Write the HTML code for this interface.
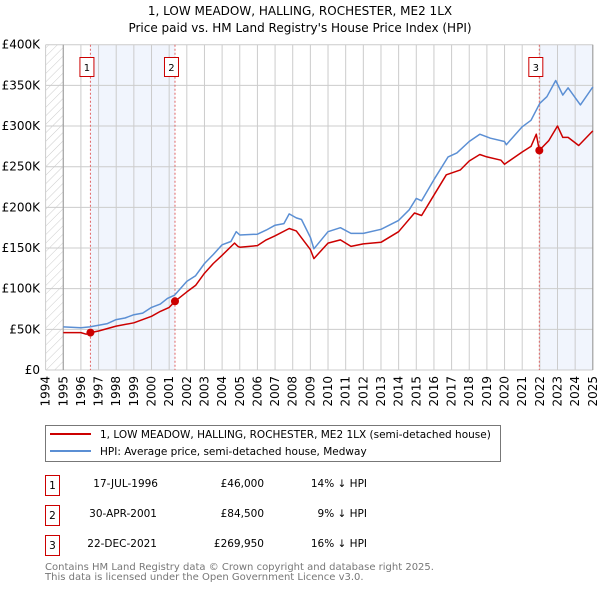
<!DOCTYPE html>
<html><head><meta charset="utf-8"><style>
body{margin:0;background:#fff;width:600px;height:590px;overflow:hidden;font-family:"DejaVu Sans","Liberation Sans",sans-serif;}
svg text{font-family:"DejaVu Sans","Liberation Sans",sans-serif;}
</style></head><body>
<svg id="chart" width="600" height="590">
<defs><pattern id="hatch" width="6" height="6" patternUnits="userSpaceOnUse" patternTransform="rotate(45)"><line x1="0" y1="0" x2="0" y2="6" stroke="#ccc" stroke-width="1"/></pattern></defs>
<text x="300" y="15" text-anchor="middle" font-size="12">1, LOW MEADOW, HALLING, ROCHESTER, ME2 1LX</text>
<text x="300" y="32" text-anchor="middle" font-size="12">Price paid vs. HM Land Registry's House Price Index (HPI)</text>
<g id="plot"></g>
<g>
<rect x="45.5" y="425.5" width="455" height="36" fill="#fff" stroke="#777"/>
<line x1="50" y1="434" x2="91" y2="434" stroke="#cc0000" stroke-width="2"/>
<text x="100" y="438" font-size="10.5">1, LOW MEADOW, HALLING, ROCHESTER, ME2 1LX (semi-detached house)</text>
<line x1="50" y1="451" x2="91" y2="451" stroke="#5b8fd4" stroke-width="2"/>
<text x="100" y="455" font-size="10.5">HPI: Average price, semi-detached house, Medway</text>
</g>
<g font-size="10.5">
<rect x="45.5" y="475.5" width="14" height="20" fill="#fff" stroke="#cc0000"/><text x="52.5" y="489" text-anchor="middle">1</text>
<text x="158" y="487" text-anchor="end">17-JUL-1996</text><text x="264" y="487" text-anchor="end">£46,000</text><text x="367" y="487" text-anchor="end">14% ↓ HPI</text>
<rect x="45.5" y="505.5" width="14" height="20" fill="#fff" stroke="#cc0000"/><text x="52.5" y="519" text-anchor="middle">2</text>
<text x="157" y="517" text-anchor="end">30-APR-2001</text><text x="264" y="517" text-anchor="end">£84,500</text><text x="367" y="517" text-anchor="end">9% ↓ HPI</text>
<rect x="45.5" y="535.5" width="14" height="20" fill="#fff" stroke="#cc0000"/><text x="52.5" y="549" text-anchor="middle">3</text>
<text x="157" y="547" text-anchor="end">22-DEC-2021</text><text x="264" y="547" text-anchor="end">£269,950</text><text x="367" y="547" text-anchor="end">16% ↓ HPI</text>
</g>
<text x="45" y="570" font-size="10" fill="#777">Contains HM Land Registry data © Crown copyright and database right 2025.</text>
<text x="45" y="580" font-size="10" fill="#777">This data is licensed under the Open Government Licence v3.0.</text>
</svg>
<script>
const yTicks=[0,50,100,150,200,250,300,350,400];
const yTickLabels=["£0","£50K","£100K","£150K","£200K","£250K","£300K","£350K","£400K"];
const years=[1994,1995,1996,1997,1998,1999,2000,2001,2002,2003,2004,2005,2006,2007,2008,2009,2010,2011,2012,2013,2014,2015,2016,2017,2018,2019,2020,2021,2022,2023,2024,2025];
const hpiT=[1995,1996,1996.5,1997,1997.5,1998,1998.5,1999,1999.5,2000,2000.5,2000.9,2001.3,2002,2002.5,2003,2003.5,2004,2004.5,2004.8,2005,2006,2006.5,2007,2007.5,2007.8,2008.2,2008.5,2009,2009.2,2010,2010.7,2011.3,2012,2013,2014,2014.6,2015,2015.3,2016,2016.8,2017.3,2018,2018.6,2019.2,2020,2020.1,2021,2021.5,2022,2022.4,2022.9,2023.3,2023.6,2024.3,2025];
const hpiV=[53,52,53,55,57,62,64,68,70,77,81,88,92,109,116,131,142,154,158,170,166,167,172,178,180,192,187,185,163,149,170,175,168,168,173,184,197,211,208,234,262,267,281,290,285,281,277,299,307,328,336,356,338,347,326,348];
const priceT=[1995,1996,1996.3,1996.54,1997,1998,1999,2000,2000.5,2001,2001.33,2002,2002.5,2003,2003.5,2004,2004.7,2004.9,2005,2006,2006.5,2007,2007.8,2008.2,2009,2009.2,2010,2010.7,2011.3,2012,2013,2014,2014.9,2015.3,2016,2016.7,2017.5,2018,2018.6,2019,2019.8,2020,2021,2021.5,2021.8,2021.97,2022.5,2023,2023.3,2023.6,2024.2,2025];
const priceV=[46,46,44,46,48,54,58,66,72,77,84.5,96,104,119,131,141,156,152,151,153,160,165,174,171,148,137,156,160,152,155,157,170,193,190,215,240,246,257,265,262,258,253,268,275,290,270,282,300,286,286,276,294];
const saleT=[1996.54,2001.33,2021.97];
const saleV=[46,84.5,269.95];
const saleLabels=["1","2","3"];

const X0=45.6,X1=592.8,Y0=370,Y1=44.7;
const xs=t=>X0+(t-1994)/(2025-1994)*(X1-X0);
const ys=v=>Y0-v/400*(Y0-Y1);
const NS="http://www.w3.org/2000/svg";
const g=document.getElementById('plot');
function mk(tag,attrs,parent){const e=document.createElementNS(NS,tag);for(const k in attrs)e.setAttribute(k,attrs[k]);(parent||g).appendChild(e);return e;}
let h=mk('rect',{x:X0,y:Y1,width:xs(1995)-X0,height:Y0-Y1,fill:'url(#hatch)'});


let s1=mk('rect',{x:xs(saleT[0]),y:Y1,width:xs(saleT[1])-xs(saleT[0]),height:Y0-Y1,fill:'#eef3fc',opacity:0.8});


let s2=mk('rect',{x:xs(saleT[2]),y:Y1,width:X1-xs(saleT[2]),height:Y0-Y1,fill:'#eef3fc',opacity:0.8});


yTicks.forEach((v,i)=>{
  const l=mk('line',{x1:X0,x2:X1,y1:ys(v),y2:ys(v),stroke:'#ccc','stroke-width':1});
  
  
  const t=mk('text',{x:40,y:ys(v)+4,'text-anchor':'end','font-size':12});
  t.textContent=yTickLabels[i];
  
  
});
years.forEach(yr=>{
  const l=mk('line',{x1:xs(yr),x2:xs(yr),y1:Y1,y2:Y0,stroke:'#ccc','stroke-width':1});
  
  
  const t=mk('text',{x:0,y:0,'font-size':12,'text-anchor':'end',transform:`translate(${xs(yr)+4},${Y0+6}) rotate(-90)`});
  t.textContent=yr;
  
  
});
const ax=mk('line',{x1:xs(1995),x2:xs(1995),y1:Y1,y2:Y0,stroke:'#999'});


const ax2=mk('line',{x1:X1,x2:X1,y1:Y1,y2:Y0,stroke:'#999'});


saleT.forEach((t,i)=>{
  const l=mk('line',{x1:xs(t),x2:xs(t),y1:Y1,y2:Y0,stroke:'#e06666','stroke-dasharray':'2,2','stroke-width':1});
  
  
  const r=mk('rect',{x:xs(t)-10.5,y:57.5,width:14,height:19,fill:'#fff',stroke:'#cc0000'});
  
  
  const tx=mk('text',{x:xs(t)-3.5,y:71,'text-anchor':'middle','font-size':10});
  tx.textContent=saleLabels[i];
  
  
});
function line(T,V,color,name){
  const d=T.map((t,i)=>(i?'L':'M')+xs(t).toFixed(1)+','+ys(V[i]).toFixed(1)).join('');
  const p=mk('path',{d:d,fill:'none',stroke:color,'stroke-width':1.5,'stroke-linejoin':'round'});
  
  
}
line(hpiT,hpiV,'#5b8fd4','hpi-line');
line(priceT,priceV,'#cc0000','price-paid-line');
saleT.forEach((t,i)=>{
  const c=mk('circle',{cx:xs(t),cy:ys(saleV[i]),r:4,fill:'#cc0000'});
  
  
});
</script>
</body></html>
